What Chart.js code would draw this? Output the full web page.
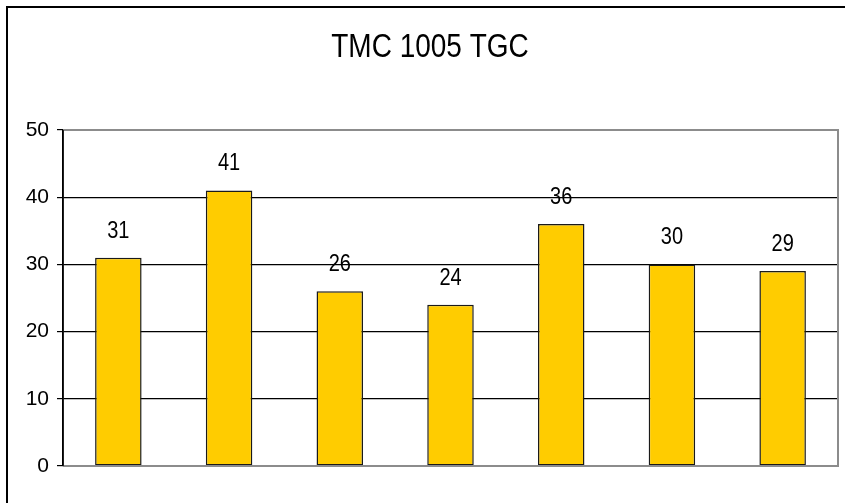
<!DOCTYPE html>
<html>
<head>
<meta charset="utf-8">
<script src="https://cdn.jsdelivr.net/npm/chart.js@4/dist/chart.umd.min.js"></script>
<style>
  html, body { margin: 0; padding: 0; background: #fff; }
  #wrap { width: 845px; height: 503px; position: relative; }
</style>
</head>
<body>
<div id="wrap"><canvas id="c" width="845" height="503"></canvas></div>
<script>
const chartTitle = "TMC 1005 TGC";
const categories = ["1", "2", "3", "4", "5", "6", "7"];
const values = [31, 41, 26, 24, 36, 30, 29];
const yTicks = [0, 10, 20, 30, 40, 50];

const FONT = "'Liberation Sans', Arial, sans-serif";

function stretchedText(c, text, x, y, size, sy) {
  c.save();
  c.font = size + "px " + FONT;
  c.textAlign = 'center';
  c.textBaseline = 'alphabetic';
  c.translate(x, y);
  c.scale(1, sy);
  c.fillText(text, 0, 0);
  c.restore();
}

const framePlugin = {
  id: 'frame',
  beforeDraw(chart) {
    const c = chart.ctx;
    c.save();
    c.fillStyle = '#fff';
    c.fillRect(0, 0, chart.width, chart.height);
    c.strokeStyle = '#000';
    c.lineWidth = 2;
    c.beginPath();
    c.moveTo(7, chart.height + 5);
    c.lineTo(7, 7);
    c.lineTo(chart.width + 5, 7);
    c.stroke();
    c.fillStyle = '#000';
    stretchedText(c, chartTitle, 430, 57, 28, 1.2);
    c.restore();
  },
  afterDatasetsDraw(chart) {
    const a = chart.chartArea;
    const c = chart.ctx;
    c.save();
    c.strokeStyle = '#8c8c8c';
    c.lineWidth = 2;
    c.beginPath();
    c.moveTo(a.left, a.top);
    c.lineTo(a.right, a.top);
    c.lineTo(a.right, a.bottom);
    c.lineTo(a.left, a.bottom);
    c.stroke();
    c.strokeStyle = '#000';
    c.lineWidth = 1.5;
    c.beginPath();
    c.moveTo(a.left, a.top);
    c.lineTo(a.left, a.bottom);
    c.stroke();
    // value labels
    const meta = chart.getDatasetMeta(0);
    c.fillStyle = '#000';
    meta.data.forEach((bar, i) => {
      stretchedText(c, String(values[i]), bar.x, bar.y - 20, 20, 1.2);
    });
    c.restore();
  }
};

new Chart(document.getElementById('c'), {
  type: 'bar',
  data: {
    labels: categories,
    datasets: [{
      data: values,
      backgroundColor: '#FFCC00',
      borderColor: '#1a1a1a',
      borderWidth: 1.5,
      borderSkipped: false,
      categoryPercentage: 1,
      barPercentage: 0.42
    }]
  },
  options: {
    responsive: false,
    animation: false,
    layout: { padding: { top: 130, right: 7, bottom: 29, left: 0 } },
    plugins: {
      legend: { display: false },
      tooltip: { enabled: false },
      title: { display: false }
    },
    scales: {
      x: {
        grid: { display: false },
        border: { display: false },
        ticks: { display: false }
      },
      y: {
        min: 0,
        max: 50,
        afterBuildTicks(scale) { scale.ticks = yTicks.map(v => ({ value: v })); },
        afterFit(scale) { scale.width = 63; },
        grid: {
          color: ctx => (ctx.tick && (ctx.tick.value === 50 || ctx.tick.value === 0)) ? '#8c8c8c' : '#000',
          lineWidth: 1.2,
          tickColor: '#000',
          tickLength: 6,
          drawTicks: true
        },
        border: { display: true, color: '#000', width: 1.5 },
        ticks: {
          color: '#000',
          font: { family: FONT, size: 21 },
          padding: 8
        }
      }
    }
  },
  plugins: [framePlugin]
});
</script>
</body>
</html>
